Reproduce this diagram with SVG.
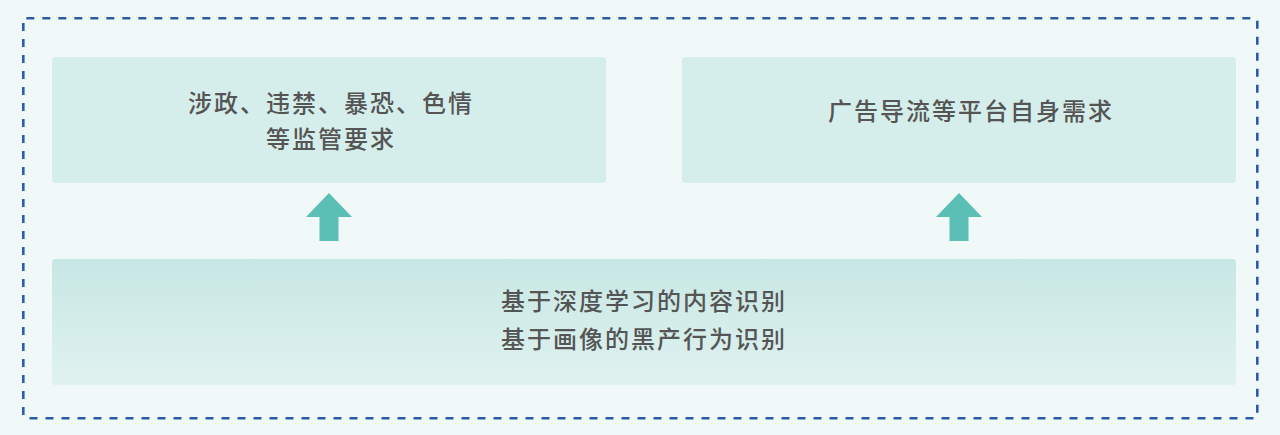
<svg xmlns="http://www.w3.org/2000/svg" width="1280" height="435" viewBox="0 0 1280 435">
  <style>
    .box { fill: #d5eeeb; }
    .txt { font-family: "Noto Sans CJK SC", "Noto Sans", sans-serif; font-size: 24px; font-weight: 500; fill: #555555; text-anchor: middle; letter-spacing: 2px; }
    .arrow { fill: #5bbfb5; }
  </style>
  <defs>
    <linearGradient id="grad" x1="0" y1="0" x2="0" y2="1">
      <stop offset="0" stop-color="#c7e7e4"/>
      <stop offset="1" stop-color="#e0f2f0"/>
    </linearGradient>
  </defs>
  <rect x="0" y="0" width="1280" height="435" fill="#f1f9f8"/>
  <rect id="frame" x="23.3" y="18.3" width="1234" height="400" rx="3" fill="none" stroke="#2a5caa" stroke-width="2.6" stroke-dasharray="8 8"/>
  <g id="node-regulation">
    <rect class="box" x="52" y="57" width="554" height="126" rx="3"/>
    <text class="txt" x="331" y="112">涉政、违禁、暴恐、色情</text>
    <text class="txt" x="331" y="148">等监管要求</text>
  </g>
  <g id="node-platform">
    <rect class="box" x="682" y="57" width="554" height="126" rx="3"/>
    <text class="txt" x="971" y="120">广告导流等平台自身需求</text>
  </g>
  <g id="node-base">
    <rect x="52" y="259" width="1184" height="126" rx="3" fill="url(#grad)"/>
    <text class="txt" x="644" y="310">基于深度学习的内容识别</text>
    <text class="txt" x="644" y="348">基于画像的黑产行为识别</text>
  </g>
  <g id="connectors">
    <polygon class="arrow" points="329,193 352,217 338.5,217 338.5,241 319.5,241 319.5,217 306,217"/>
    <polygon class="arrow" points="959,193 982,217 968.5,217 968.5,241 949.5,241 949.5,217 936,217"/>
  </g>
</svg>
